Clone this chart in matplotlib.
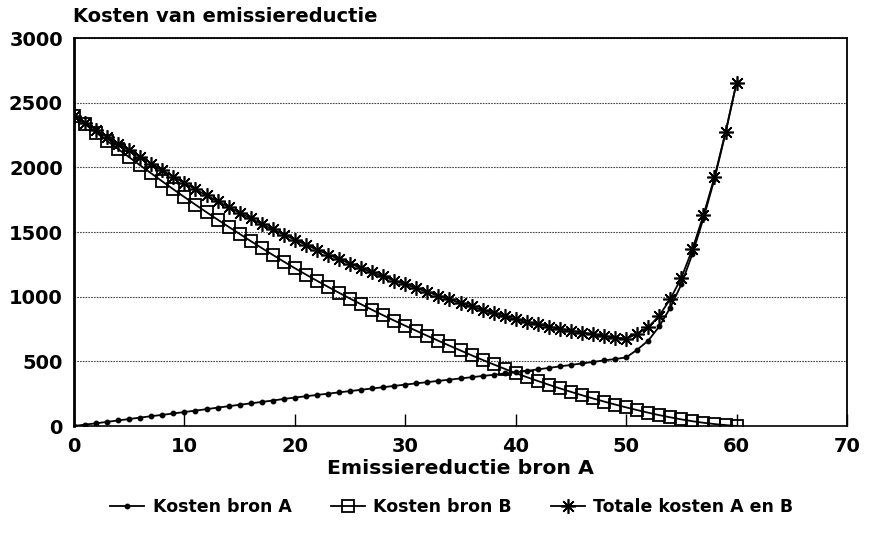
import matplotlib
matplotlib.use("Agg")
import matplotlib.pyplot as plt
from matplotlib.lines import Line2D

x_vals = list(range(0, 61))

kosten_a = [0, 11, 21, 32, 43, 54, 65, 76, 86, 97,
            108, 119, 130, 142, 153, 164, 175, 186, 197, 209,
            220, 230, 240, 250, 260, 270, 280, 290, 300, 310,
            320, 330, 339, 349, 358, 368, 377, 387, 396, 406,
            415, 426, 438, 449, 461, 472, 484, 495, 507, 518,
            530, 590, 660, 770, 915, 1095, 1330, 1605, 1910, 2265,
            2655]

kosten_b = [2400, 2334, 2269, 2205, 2141, 2078, 2015, 1953, 1891, 1830,
            1770, 1711, 1653, 1596, 1540, 1485, 1430, 1376, 1323, 1271,
            1220, 1171, 1123, 1076, 1030, 985, 941, 898, 856, 815,
            775, 736, 697, 659, 621, 584, 547, 511, 476, 442,
            409, 378, 348, 319, 291, 264, 238, 213, 189, 166,
            144, 123, 103, 84, 67, 51, 37, 25, 15, 7,
            0]

totaal = [a + b for a, b in zip(kosten_a, kosten_b)]

x_ticks = [0, 10, 20, 30, 40, 50, 60, 70]
y_ticks = [0, 500, 1000, 1500, 2000, 2500, 3000]

title = "Kosten van emissiereductie"
xlabel = "Emissiereductie bron A"
labels = ["Kosten bron A", "Kosten bron B", "Totale kosten A en B"]

plt.rcParams['font.family'] = ['DejaVu Sans']
plt.rcParams['font.weight'] = 'bold'

fig = plt.figure(figsize=(8.69, 5.42), dpi=100)
ax = fig.add_axes([74/869, 1-426/542, (847-74)/869, (426-38)/542])

star = (8, 2, 0)
ax.plot(x_vals, kosten_a, color='black', lw=1.3, marker='o', ms=3.2,
        mfc='black', mec='black', zorder=3)
ax.plot(x_vals, kosten_b, color='black', lw=1.3, marker='s', ms=8.5,
        mfc='none', mec='black', mew=1.3, zorder=3)
ax.plot(x_vals, totaal, color='black', lw=1.3, marker=star, ms=10.5,
        mec='black', mew=1.2, zorder=4)

ax.set_xlim(0, 70)
ax.set_ylim(0, 3000)
ax.set_xticks(x_ticks)
ax.set_yticks(y_ticks)
ax.set_xticklabels([str(t) for t in x_ticks], fontsize=14, fontweight='bold')
ax.set_yticklabels([str(t) for t in y_ticks], fontsize=14, fontweight='bold')
ax.tick_params(axis='x', direction='in', length=9, width=1, pad=8)
ax.tick_params(axis='y', length=0, pad=8)

ax.yaxis.grid(True, linestyle=(0, (1.5, 1)), color='#444444', lw=0.8)
ax.set_axisbelow(True)

ax.spines['left'].set_linewidth(2.0)
for side in ['right', 'top']:
    ax.spines[side].set_linewidth(1.3)
ax.spines['bottom'].set_linewidth(1.2)

ax.set_xlabel(xlabel, fontsize=14.7, fontweight='bold', labelpad=2)
fig.text(73/869, 1-17/542, title, fontsize=14, fontweight='bold',
         ha='left', va='center')

handles = [
    Line2D([], [], color='black', lw=1.3, marker='o', ms=3.2),
    Line2D([], [], color='black', lw=1.3, marker='s', ms=8.5, mfc='none', mew=1.3),
    Line2D([], [], color='black', lw=1.3, marker=star, ms=10.5, mew=1.2),
]
fig.legend(handles, labels, loc='center', bbox_to_anchor=(0.52, 1-507/542),
           ncol=3, frameon=False, prop={'size': 12.5, 'weight': 'bold'},
           handlelength=1.95, columnspacing=2.25, handletextpad=0.5)

fig.savefig("out.png", dpi=100)
